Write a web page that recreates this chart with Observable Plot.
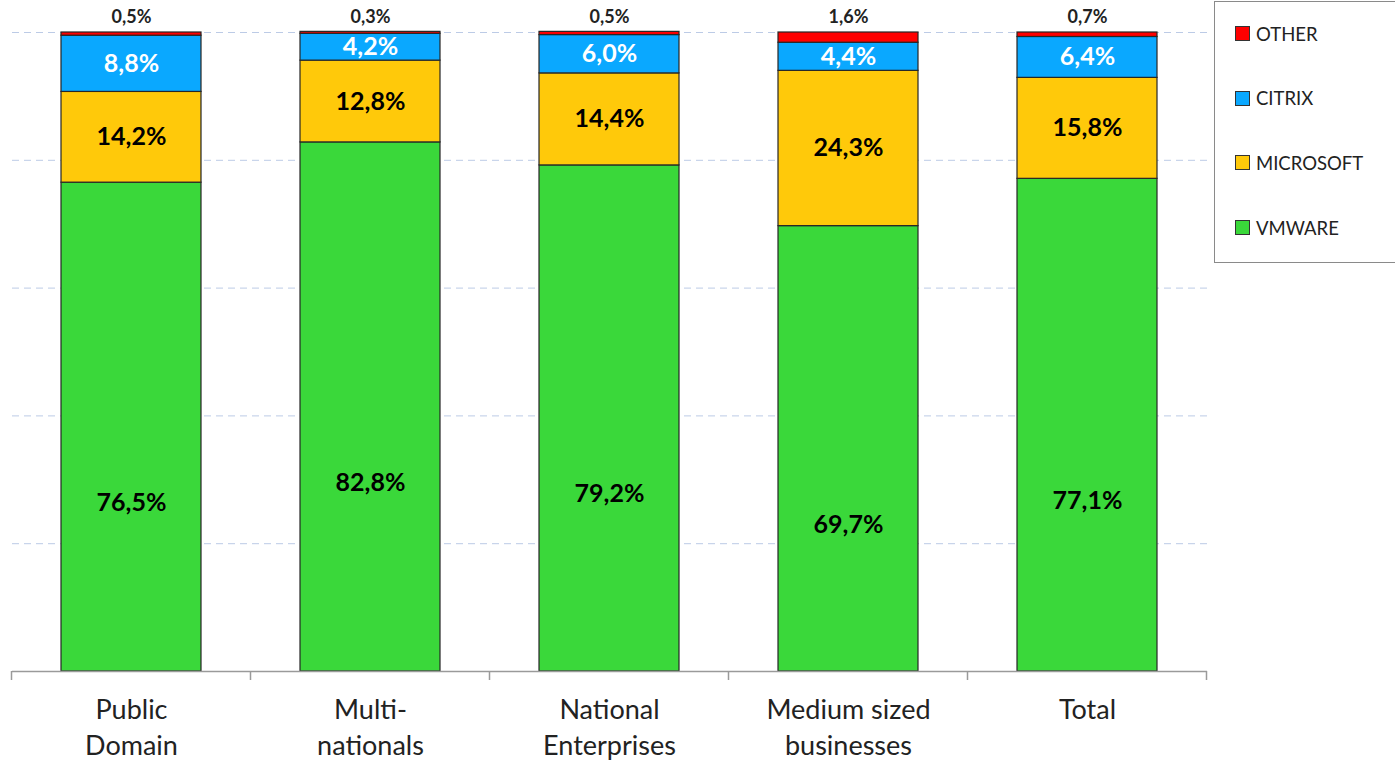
<!DOCTYPE html>
<html><head><meta charset="utf-8">
<script src="https://cdn.jsdelivr.net/npm/d3@7"></script>
<script src="https://cdn.jsdelivr.net/npm/@observablehq/plot@0.6"></script>
<style>
body{margin:0;background:#fff;font-family:Lato,"Open Sans",sans-serif;}
#wrap{position:relative;width:1395px;height:763px;overflow:hidden;}
#legend{position:absolute;left:1214px;top:1px;width:185px;height:262px;border:1.5px solid #8a8a8a;box-sizing:border-box;background:#fff;}
.item{position:absolute;left:20px;height:24px;display:flex;align-items:center;font-size:18.5px;color:#222;}
.sw{width:13px;height:13px;border:1.5px solid #333;margin-right:6px;box-sizing:content-box;}
</style>
</head><body>
<div id="wrap"><div id="chart"></div><div id="legend"></div></div>
<script>
const categories = ["Public\nDomain","Multi-\nnationals","National\nEnterprises","Medium sized\nbusinesses","Total"];
const series = ["VMWARE","MICROSOFT","CITRIX","OTHER"];
const vmware = [76.5,82.8,79.2,69.7,77.1];
const microsoft = [14.2,12.8,14.4,24.3,15.8];
const citrix = [8.8,4.2,6.0,4.4,6.4];
const other = [0.5,0.3,0.5,1.6,0.7];
const colors = ["#3AD83A","#FFC90A","#0AA8FF","#FF0000"];
const yTicks = [20,40,60,80,100];

const valuesBySeries = {VMWARE: vmware, MICROSOFT: microsoft, CITRIX: citrix, OTHER: other};
const rows = [];
categories.forEach((c, i) => series.forEach(s => rows.push({category: c, company: s, value: valuesBySeries[s][i]})));
const fmt = v => d3.format(".1f")(v).replace(".", ",") + "%";
const only = s => d => d.company === s ? fmt(d.value) : null;

const boundaryTicks = (index, scales, values, dims) => {
  const x = scales.x;
  const bw = x.bandwidth();
  const step = x.step ? x.step() : (x(categories[1]) - x(categories[0]));
  const off = (step - bw) / 2;
  const xs = categories.map(c => x(c) - off);
  xs.push(x(categories[categories.length - 1]) + bw + off);
  const y0 = dims.height - dims.marginBottom;
  const g = d3.create("svg:g");
  g.selectAll("line").data(xs).join("line")
    .attr("x1", d => d).attr("x2", d => d)
    .attr("y1", y0).attr("y2", y0 + 9)
    .attr("stroke", "#9a9a9a").attr("stroke-width", 1.5);
  return g.node();
};

const stackOpts = {x: "category", y: "value", z: "company", order: series};

const chart = Plot.plot({
  width: 1395, height: 763,
  marginLeft: 12, marginRight: 188, marginTop: 32, marginBottom: 92,
  style: {fontFamily: "Lato, 'Open Sans', sans-serif", color: "#222", background: "white"},
  x: {domain: categories, paddingInner: 0.414, paddingOuter: 0.207, label: null},
  y: {domain: [0, 100], axis: null},
  color: {domain: series, range: colors},
  marks: [
    Plot.gridY(yTicks, {stroke: "#bccbe6", strokeDasharray: "7,5", strokeOpacity: 1, strokeWidth: 1}),
    Plot.barY(rows, Plot.stackY({...stackOpts, fill: "company", stroke: "#262626", strokeWidth: 1.2})),
    Plot.ruleY([0], {stroke: "#9a9a9a", strokeWidth: 1.5}),
    boundaryTicks,
    Plot.axisX({tickSize: 0, tickPadding: 21, fontSize: 27, lineHeight: 1.36, fill: "#222", label: null}),
    Plot.text(rows, Plot.stackY({...stackOpts, text: only("VMWARE"), fill: "#000", fontSize: 25, fontWeight: "bold", dy: 76})),
    Plot.text(rows, Plot.stackY({...stackOpts, text: only("MICROSOFT"), fill: "#000", fontSize: 25, fontWeight: "bold"})),
    Plot.text(rows, Plot.stackY({...stackOpts, text: only("CITRIX"), fill: "#fff", fontSize: 25, fontWeight: "bold"})),
    Plot.text(rows, Plot.stackY2({...stackOpts, text: only("OTHER"), fill: "#222", fontSize: 18, fontWeight: "bold", dy: -15}))
  ]
});
document.getElementById("chart").appendChild(chart);

const legend = document.getElementById("legend");
series.slice().reverse().forEach((s, i) => {
  const item = document.createElement("div");
  item.className = "item";
  item.style.top = (19.5 + i * 64.7) + "px";
  const sw = document.createElement("span");
  sw.className = "sw";
  sw.style.background = colors[series.indexOf(s)];
  const t = document.createElement("span");
  t.textContent = s;
  item.appendChild(sw); item.appendChild(t);
  legend.appendChild(item);
});
</script>
</body></html>
